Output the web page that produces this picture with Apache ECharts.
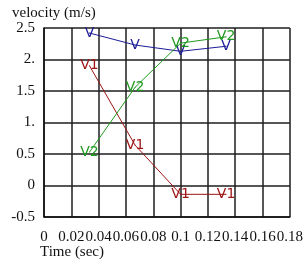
<!DOCTYPE html>
<html>
<head>
<meta charset="utf-8">
<script src="https://cdn.jsdelivr.net/npm/echarts@6/dist/echarts.min.js"></script>
<style>
html,body{margin:0;padding:0;background:#fff;}
#c{width:306px;height:262px;}
</style>
</head>
<body>
<div id="c"></div>
<script>
var times = [0.0333, 0.0667, 0.1, 0.1333];
var vValues = [2.42, 2.23, 2.13, 2.21];
var v1Values = [1.90, 0.64, -0.14, -0.14];
var v2Values = [0.53, 1.56, 2.26, 2.36];
var seriesNames = ['V', 'V1', 'V2'];
var yTickLabels = {'-0.5':'-0.5','0':'0','0.5':'0.5','1':'1.','1.5':'1.5','2':'2.','2.5':'2.5'};
var xTitle = 'Time (sec)';
var yTitle = 'velocity (m/s)';

var colors = ['#1c1c98', '#9c1414', '#1f9a1f'];
var allValues = [vValues, v1Values, v2Values];
var FONT = '"Liberation Serif", "DejaVu Serif", serif';

function pairs(vals){ return times.map(function(t,i){ return [t, vals[i]]; }); }

var chart = echarts.init(document.getElementById('c'), null, {renderer:'canvas'});
chart.setOption({
  animation:false,
  backgroundColor:'#fff',
  grid:{left:44, right:15, top:28, bottom:45, containLabel:false},
  xAxis:{
    type:'value', min:0, max:0.18, interval:0.02,
    axisLine:{show:true, onZero:false, lineStyle:{color:'#111', width:1.5}},
    axisTick:{show:false},
    splitLine:{show:true, lineStyle:{color:'#1e1e1e', width:1.5}},
    axisLabel:{color:'#111', fontFamily:FONT, fontSize:15, margin:13,
      formatter:function(v){ return String(Math.round(v*100)/100); }}
  },
  yAxis:{
    type:'value', min:-0.5, max:2.5, interval:0.5,
    axisLine:{show:true, onZero:false, lineStyle:{color:'#111', width:1.5}},
    axisTick:{show:false},
    splitLine:{show:true, lineStyle:{color:'#1e1e1e', width:1.5}},
    axisLabel:{color:'#111', fontFamily:FONT, fontSize:15, margin:9,
      formatter:function(v){ var k = String(Math.round(v*10)/10); return yTickLabels[k] !== undefined ? yTickLabels[k] : k; }}
  },
  graphic:[
    {type:'text', left:12, top:6, style:{text:yTitle, fill:'#111', font:'15px ' + FONT}},
    {type:'text', left:40, top:245, style:{text:xTitle, fill:'#111', font:'15px ' + FONT}}
  ],
  series: seriesNames.map(function(name, i){
    return {
      name:name, type:'line', data:pairs(allValues[i]),
      symbol:'circle', symbolSize:1,
      itemStyle:{color:colors[i]},
      lineStyle:{color:colors[i], width:1},
      label:{show:true, position:'inside', formatter:name, color:colors[i],
        fontFamily:'"DejaVu Sans", sans-serif', fontSize:14}
    };
  })
});
</script>
</body>
</html>
